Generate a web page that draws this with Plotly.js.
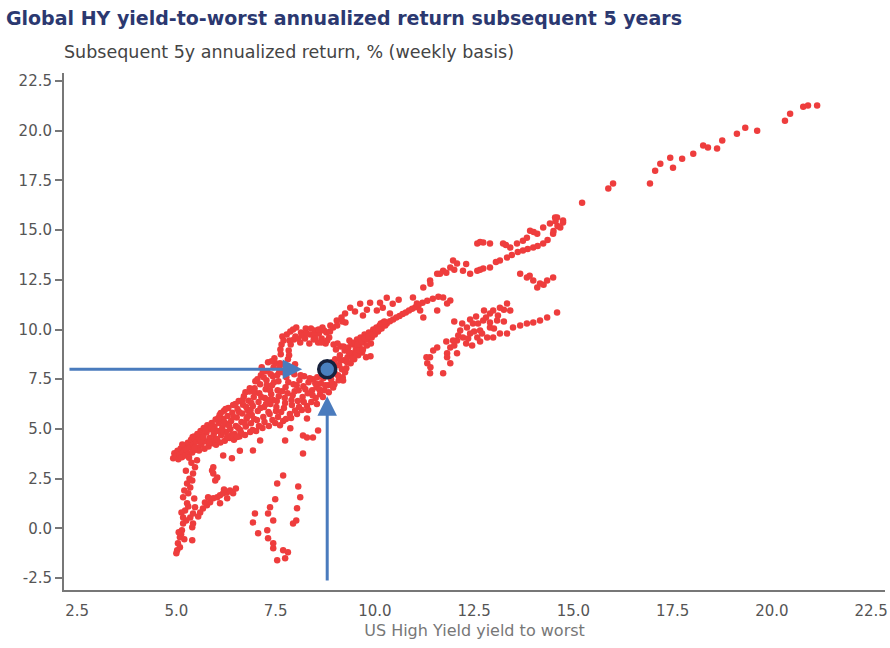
<!DOCTYPE html>
<html>
<head>
<meta charset="utf-8">
<script src="https://cdn.plot.ly/plotly-3.0.1.min.js"></script>
<style>html,body{margin:0;padding:0;background:#fff;}#chart{width:890px;height:648px;}</style>
</head>
<body>
<div id="chart"></div>
<script>
// ---- Data ----
const chartTitle = "Global HY yield-to-worst annualized return subsequent 5 years";
const yAxisLabel = "Subsequent 5y annualized return, % (weekly basis)";
const xAxisLabel = "US High Yield yield to worst";

const xTickVals = [2.5, 5, 7.5, 10, 12.5, 15, 17.5, 20, 22.5];
const xTickText = ["2.5", "5.0", "7.5", "10.0", "12.5", "15.0", "17.5", "20.0", "22.5"];
const yTickVals = [-2.5, 0, 2.5, 5, 7.5, 10, 12.5, 15, 17.5, 20, 22.5];
const yTickText = ["-2.5", "0.0", "2.5", "5.0", "7.5", "10.0", "12.5", "15.0", "17.5", "20.0", "22.5"];

// highlighted current point
const highlightX = 8.8;
const highlightY = 8.0;

// main dense band, yield 4.9-6.0
const bandA = [[4.92,3.52],[4.95,3.78],[4.98,3.62],[5.03,3.9],[5.05,3.48],[5.08,3.71],[5.11,4.02],[5.14,3.58],[5.17,3.83],[5.2,4.15],[5.23,3.66],[5.26,3.95],[5.29,4.3],[5.31,3.74],[5.34,4.08],[5.37,4.45],[5.4,3.82],[5.43,4.2],[5.45,4.62],[5.48,3.95],[5.5,4.35],[5.53,4.75],[5.56,4.05],[5.58,4.5],[5.61,4.9],[5.63,4.22],[5.66,4.68],[5.69,5.05],[5.71,4.0],[5.73,4.38],[5.76,4.82],[5.78,5.18],[5.81,4.12],[5.84,4.55],[5.86,4.98],[5.89,5.3],[5.91,4.28],[5.94,4.72],[5.96,5.12],[5.99,5.48],[6.0,4.2],
  [5.15,4.22],[5.32,3.55],[5.41,4.6],[5.57,3.92],[5.62,4.42],[5.74,4.95],[5.83,4.3],[5.88,5.12],[5.97,4.45],[5.46,4.05],[5.68,4.6],[5.93,4.95]];
// yield 6.0-7.0
const bandB = [[6.02,4.5],[6.04,4.9],[6.07,5.3],[6.09,5.7],[6.11,4.32],[6.13,4.68],[6.16,5.08],[6.18,5.5],[6.2,5.92],[6.22,4.4],[6.25,4.85],[6.27,5.25],[6.29,5.65],[6.31,6.05],[6.34,4.55],[6.36,4.98],[6.38,5.4],[6.41,5.82],[6.43,6.2],[6.45,4.45],[6.47,4.75],[6.5,5.15],[6.52,5.58],[6.54,6.0],[6.57,6.4],[6.59,4.62],[6.61,4.95],[6.64,5.35],[6.66,5.78],[6.68,6.22],[6.7,6.65],[6.73,4.7],[6.75,5.12],[6.77,5.52],[6.79,5.95],[6.82,6.42],[6.84,6.88],[6.86,4.85],[6.88,5.28],[6.9,5.7],[6.93,6.15],[6.95,6.6],[6.97,7.05],[6.99,7.4],
  [6.06,5.55],[6.14,4.95],[6.21,5.35],[6.24,6.0],[6.33,5.15],[6.39,4.7],[6.44,5.6],[6.49,6.25],[6.56,5.05],[6.58,5.85],[6.63,4.8],[6.67,6.45],[6.72,5.3],[6.76,6.1],[6.81,5.65],[6.85,7.05],[6.89,6.3],[6.92,4.95],[6.96,5.5],[6.98,6.85],[6.53,4.6],[6.28,4.6],[6.12,5.8],[6.74,6.85],[6.87,5.95]];
// yield 7.0-8.0
const bandC = [[7.01,4.9],[7.03,5.45],[7.05,5.9],[7.07,6.35],[7.09,6.8],[7.11,7.25],[7.13,7.7],[7.15,8.1],[7.17,5.05],[7.19,5.6],[7.21,6.1],[7.23,6.55],[7.25,7.0],[7.27,7.45],[7.29,7.9],[7.31,8.35],[7.33,5.15],[7.35,5.75],[7.37,6.25],[7.39,6.75],[7.41,7.2],[7.43,7.65],[7.45,8.1],[7.47,8.55],[7.49,5.3],[7.51,5.9],[7.53,6.4],[7.55,6.95],[7.57,7.4],[7.59,7.85],[7.61,8.3],[7.63,8.75],[7.65,9.25],[7.67,9.65],[7.69,5.4],[7.71,6.05],[7.73,6.55],[7.75,7.1],[7.77,7.6],[7.79,8.05],[7.81,8.5],[7.83,8.95],[7.85,9.45],[7.87,9.9],[7.89,5.55],[7.91,6.2],[7.93,6.7],[7.95,7.25],[7.97,7.75],[7.99,8.25],[8.0,9.65],[8.02,10.1],
  [7.04,7.5],[7.08,5.15],[7.12,6.05],[7.14,6.6],[7.18,7.9],[7.22,5.35],[7.26,6.25],[7.28,7.2],[7.32,5.85],[7.36,6.95],[7.38,7.75],[7.42,5.45],[7.44,6.45],[7.46,7.35],[7.5,8.3],[7.52,6.1],[7.54,7.7],[7.56,5.6],[7.58,6.65],[7.6,8.05],[7.62,9.0],[7.64,5.85],[7.66,6.9],[7.68,7.85],[7.7,9.45],[7.72,8.25],[7.74,6.3],[7.76,5.5],[7.78,9.75],[7.8,6.8],[7.82,7.35],[7.84,8.7],[7.86,5.75],[7.88,9.25],[7.9,6.45],[7.92,7.95],[7.94,10.0],[7.96,9.5],[7.98,6.9],[7.4,8.4],[7.2,7.6],[7.34,6.45]];
// yield 8.0-9.3
const bandD = [[8.04,5.75],[8.06,6.4],[8.08,6.95],[8.1,7.45],[8.12,9.35],[8.14,9.85],[8.16,5.95],[8.18,6.6],[8.2,7.15],[8.22,7.65],[8.24,9.55],[8.26,10.05],[8.29,6.15],[8.31,6.8],[8.33,7.35],[8.35,9.3],[8.37,9.75],[8.4,6.35],[8.42,6.95],[8.44,7.5],[8.46,9.5],[8.48,9.95],[8.51,6.55],[8.53,7.1],[8.55,7.6],[8.57,9.35],[8.59,9.8],[8.62,6.75],[8.64,7.3],[8.66,9.55],[8.68,10.1],[8.7,7.55],[8.73,6.95],[8.76,9.3],[8.78,9.85],[8.82,7.2],[8.85,9.6],[8.88,10.2],[8.9,7.5],[8.93,8.35],[8.96,9.25],[8.98,7.25],[9.0,8.5],[9.02,9.0],[9.04,10.45],[9.07,7.7],[9.1,8.2],[9.12,8.7],[9.14,9.15],[9.16,10.6],[9.19,7.6],[9.22,8.45],[9.24,8.95],[9.26,10.35],
  [8.03,7.2],[8.07,9.55],[8.09,6.1],[8.13,7.7],[8.17,9.7],[8.21,6.35],[8.25,7.0],[8.28,9.8],[8.32,5.95],[8.36,7.55],[8.39,10.05],[8.43,6.7],[8.47,9.7],[8.5,7.3],[8.54,6.25],[8.58,10.0],[8.6,7.0],[8.65,9.35],[8.69,6.6],[8.72,9.95],[8.75,7.2],[8.8,9.45],[8.84,6.85],[8.87,9.9],[8.91,7.3],[8.95,10.1],[8.99,7.8],[9.03,8.2],[9.06,9.3],[9.09,7.45],[9.13,8.45],[9.17,8.0],[9.21,9.15],[9.25,7.85],[9.05,10.2],[9.18,10.4],[8.5,9.55]];
// yield 9.3-11.6 (lower diagonal branch)
const bandE = [[9.28,8.05],[9.31,8.6],[9.33,9.1],[9.36,9.45],[9.39,8.3],[9.42,8.8],[9.45,9.25],[9.48,8.5],[9.52,9.0],[9.55,9.5],[9.58,8.7],[9.61,9.15],[9.64,9.6],[9.68,8.85],[9.71,9.35],[9.74,9.75],[9.78,8.6],[9.81,9.5],[9.85,9.85],[9.89,8.65],[9.92,9.6],[9.96,10.0],[10.0,9.75],[10.04,10.1],[10.08,9.9],[10.12,10.2],[10.17,10.05],[10.21,10.35],[10.26,10.2],[10.3,10.3],[10.38,10.42],[10.46,10.5],[10.54,10.6],[10.62,10.68],[10.7,10.78],[10.78,10.85],[10.86,10.95],[10.94,11.05],[11.02,11.12],[11.1,11.22],[11.2,11.35],[11.32,11.45],[11.46,11.55],[11.6,11.65],
  [9.3,8.35],[9.35,8.85],[9.4,9.35],[9.44,8.55],[9.5,9.35],[9.53,8.8],[9.57,9.25],[9.62,8.95],[9.66,9.4],[9.7,9.0],[9.75,9.55],[9.8,9.2],[9.84,9.65],[9.9,9.3],[9.95,9.75],[10.02,9.95],[10.1,10.0],[10.15,10.3],[10.24,10.4]];

// lower-left vertical streak (yield ~5)
const lowStreak = [[5.02,-1.1],[5.04,-0.75],[5.09,-0.45],[5.14,-0.1],[5.17,0.25],[5.17,0.55],[5.22,0.9],[5.27,1.26],[5.17,1.56],[5.3,1.76],[5.35,2.06],[5.27,2.26],[5.4,2.41],[5.42,2.76],[5.47,3.07],[5.52,3.42],[5.35,0.55],[5.4,0.05],[5.42,0.25],[5.42,0.75],[5.4,-0.6],[5.09,-0.95],[5.47,1.06],[5.0,-1.25],[5.12,-0.3],[5.25,0.4],[5.3,1.1],[5.2,1.9],[5.33,2.5],[5.45,1.5],[5.24,2.9],[5.38,3.3],[5.06,-0.2],[5.2,-0.55],[5.13,0.8]];

// branch to the right of the streak
const branchPts = [[5.6,0.8],[5.67,1.0],[5.77,1.16],[5.85,1.31],[5.93,1.51],[6.03,1.56],[6.1,1.66],[6.18,1.76],[6.28,1.81],[6.35,1.91],[6.43,1.76],[6.28,1.51],[6.1,1.26],[5.8,1.56],[5.98,2.41],[5.93,2.76],[5.9,2.91],[6.03,2.56],[5.55,0.6],[6.2,1.95],[6.5,2.0],[5.72,1.3]];

// low-return cluster at yield 7-8
const lowCluster = [[7.69,2.66],[7.54,2.26],[8.07,2.11],[7.49,1.46],[8.12,1.56],[7.36,1.06],[7.31,0.75],[7.44,0.4],[8.04,1.01],[8.02,0.4],[7.94,0.25],[6.98,0.75],[6.93,0.3],[7.06,-0.25],[7.29,-0.1],[7.31,-0.5],[7.44,-0.75],[7.44,-1.0],[7.69,-1.1],[7.81,-1.2],[7.54,-1.6],[7.74,-1.5]];

// scattered points below the band
const belowBand = [[6.18,3.67],[6.4,3.52],[6.93,3.92],[7.11,4.42],[7.61,5.18],[7.87,5.03],[8.19,4.67],[8.19,3.77],[8.44,4.57],[8.57,4.92],[8.29,5.53],[7.99,5.93],[9.2,7.44],[8.95,7.09],[8.29,4.57],[7.74,4.42],[6.6,3.9],[5.93,3.07]];

// cluster above the band around yield 9-10.6
const upperCluster = [[9.25,10.8],[9.38,11.1],[9.5,10.9],[9.63,11.3],[9.7,10.7],[9.8,11.0],[9.88,11.35],[10.05,10.95],[10.13,11.35],[10.2,11.1],[10.3,11.6],[10.45,11.3],[10.6,11.5],[10.38,10.8]];

// right-hand group, yield 11-14.7
const rightUpper = [[11.22,12.11],[11.39,12.46],[11.57,12.81],[11.72,12.96],[11.9,13.12],[12.07,13.32],[11.97,13.47],[12.22,12.96],[12.4,12.81],[12.58,12.96],[12.73,13.07],[12.9,13.12],[13.15,13.47],[13.33,13.62],[12.58,14.32],[12.73,14.37],[12.9,14.32],[13.23,14.32],[13.41,14.12],[13.58,14.32],[13.73,14.47],[13.83,14.62],[13.91,14.97],[14.09,14.82],[14.24,15.13],[14.41,15.33],[14.59,15.63],[14.74,15.48],[14.49,14.82],[14.24,14.32],[13.99,14.12],[13.73,13.97],[11.4,12.3],[11.64,12.8],[12.3,13.3],[11.8,12.85],[12.0,13.0],[12.65,13.0],[13.05,13.4],[13.45,13.75],[13.6,13.9],[13.85,14.05],[14.1,14.2],[14.35,14.5],[14.5,14.95],[14.6,15.2],[12.65,14.4],[13.3,14.25],[14.0,14.9],[14.55,15.45],[14.67,15.13],[14.74,15.38],[14.54,15.63]];
const rightMid = [[13.66,12.81],[13.83,12.61],[13.99,12.46],[14.16,12.31],[14.34,12.46],[14.49,12.61],[14.09,12.11],[13.9,12.7],[14.25,12.25]];
const rightLeft = [[10.96,11.61],[11.06,11.31],[11.14,10.95],[11.22,10.6],[11.57,10.95],[11.72,11.61],[11.82,11.31],[11.9,11.46]];
const rightLower = [[12.15,9.95],[12.32,10.1],[12.4,9.8],[12.22,9.6],[12.07,9.45],[12.47,10.3],[12.58,9.6],[12.65,9.95],[12.73,10.45],[12.9,10.8],[12.98,10.95],[13.15,11.1],[13.33,11.31],[13.41,10.95],[13.08,10.45],[12.9,10.1],[12.83,9.6],[12.98,9.6],[13.15,9.8],[13.33,9.8],[13.48,10.1],[13.66,10.2],[13.83,10.3],[13.99,10.35],[14.16,10.45],[14.34,10.6],[14.59,10.85],[11.9,9.1],[11.82,8.8],[11.57,9.1],[11.39,8.6],[11.32,8.3],[11.39,7.8],[11.72,7.8],[11.9,8.3],[12.07,8.8],[11.3,8.6],[11.4,8.1],[11.47,8.94],[11.82,8.6],[11.97,9.45],[12.0,9.2],[12.1,9.7],[12.3,9.3],[12.4,10.5],[12.5,9.9],[12.6,10.3],[12.7,9.8],[12.8,10.6],[12.9,10.35],[13.0,10.05],[13.1,10.7],[13.25,10.4],[12.35,9.55],[12.55,10.65],[12.75,10.95],[13.25,11.0],[12.2,10.3],[12.45,9.2],[12.65,9.4],[11.8,9.4],[12.0,10.4]];

// top-right tail, yield 15-21
const topTail = [[15.22,16.38],[15.88,17.09],[16.0,17.34],[16.93,17.34],[17.06,17.99],[17.19,18.34],[17.44,18.64],[17.51,18.14],[17.74,18.59],[18.02,18.84],[18.27,19.25],[18.39,19.15],[18.62,19.1],[18.75,19.5],[19.12,19.85],[19.33,20.15],[19.63,20.0],[20.33,20.5],[20.46,20.85],[20.79,21.2],[20.91,21.26],[21.14,21.26]];

// ---- build traces ----
const allX = [], allY = [];
[bandA, bandB, bandC, bandD, bandE, lowStreak, branchPts, lowCluster, belowBand, upperCluster, rightUpper, rightMid, rightLeft, rightLower, topTail]
  .forEach(g => g.forEach(p => { allX.push(p[0]); allY.push(p[1]); }));

const red = '#ee3d3d';
const arrowBlue = '#4a7bbd';

const traces = [
  { type: 'scatter', mode: 'markers', x: allX, y: allY,
    marker: { size: 6.5, color: red }, hoverinfo: 'skip', showlegend: false },
  { type: 'scatter', mode: 'markers', x: [highlightX], y: [highlightY],
    marker: { size: 17, color: '#4a80bf', line: { color: '#17223d', width: 3.5 } },
    showlegend: false }
];

const tickFont = { family: 'DejaVu Sans, sans-serif', size: 15, color: '#555' };

const layout = {
  width: 890, height: 648,
  margin: { l: 64, r: 5, t: 73, b: 58 },
  paper_bgcolor: '#fff', plot_bgcolor: '#fff',
  showlegend: false,
  title: { text: '<b>' + chartTitle + '</b>', x: 0.0067, xref: 'container', xanchor: 'left',
           y: 0.972, yref: 'container', yanchor: 'middle',
           font: { family: 'DejaVu Sans, sans-serif', size: 19, color: '#2b3870' } },
  xaxis: {
    range: [2.17, 22.85], tickvals: xTickVals, ticktext: xTickText,
    showgrid: false, zeroline: false, showline: true, linecolor: '#777', linewidth: 2,
    ticks: '', tickfont: tickFont, ticklabelstandoff: 6,
    title: { text: xAxisLabel, standoff: 6, font: { family: 'DejaVu Sans, sans-serif', size: 16, color: '#777' } }
  },
  yaxis: {
    range: [-3.1, 22.9], tickvals: yTickVals, ticktext: yTickText,
    showgrid: false, zeroline: false, showline: true, linecolor: '#777', linewidth: 2,
    ticks: 'outside', ticklen: 7, tickwidth: 2, tickcolor: '#777', tickfont: tickFont
  },
  annotations: [
    { text: yAxisLabel, xref: 'paper', yref: 'paper', x: -0.003, y: 1.04, xanchor: 'left', yanchor: 'middle',
      showarrow: false, font: { family: 'DejaVu Sans, sans-serif', size: 17.5, color: '#444' } },
    { text: '', xref: 'x', yref: 'y', axref: 'x', ayref: 'y',
      x: highlightX - 0.63, y: highlightY, ax: 2.27, ay: highlightY,
      showarrow: true, arrowhead: 2, arrowsize: 1.3, arrowwidth: 3, arrowcolor: arrowBlue },
    { text: '', xref: 'x', yref: 'y', axref: 'x', ayref: 'y',
      x: highlightX, y: highlightY - 1.35, ax: highlightX, ay: -2.7,
      showarrow: true, arrowhead: 2, arrowsize: 1.3, arrowwidth: 3, arrowcolor: arrowBlue }
  ]
};

Plotly.newPlot('chart', traces, layout, { staticPlot: true, displayModeBar: false });
</script>
</body>
</html>
